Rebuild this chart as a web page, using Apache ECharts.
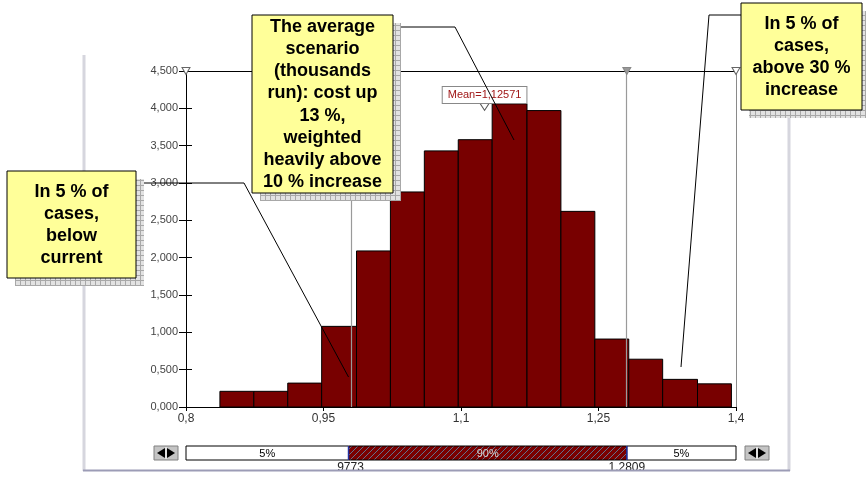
<!DOCTYPE html>
<html><head><meta charset="utf-8">
<script src="https://cdn.jsdelivr.net/npm/echarts/dist/echarts.min.js"></script>
<style>html,body{margin:0;padding:0;background:#fff}#c{width:866px;height:477px}</style>
</head><body><div id="c"></div>
<script>
// ---- data ----
const binEdges = [0.837,0.874,0.911,0.948,0.986,1.023,1.060,1.097,1.134,1.172,1.209,1.246,1.283,1.320,1.358,1.395];
const binValues = [0.21,0.21,0.32,1.08,2.09,2.88,3.43,3.58,4.06,3.97,2.62,0.91,0.64,0.37,0.31];
const xTicks = [0.8,0.95,1.1,1.25,1.4];
const yMin = 0, yMax = 4.5, yStep = 0.5;
const lowerCut = 0.9773, upperCut = 1.2809;
const meanValue = 1.12571, meanMarkerY = 4.02;
const bandLabels = ['5%','90%','5%'];
const cutLabels = ['9773','1,2809'];
const calloutLeft = 'In 5 % of\ncases,\nbelow\ncurrent';
const calloutMid = 'The average\nscenario\n(thousands\nrun): cost up\n13 %,\nweighted\nheavily above\n10 % increase';
const calloutRight = 'In 5 % of\ncases,\nabove 30 %\nincrease';

const FONT = '"Liberation Sans", Arial, sans-serif';
const comma = v => String(+(+v).toFixed(6)).replace('.', ',');

function makePattern(w, h, draw){
  const c = document.createElement('canvas'); c.width = w; c.height = h;
  const g = c.getContext('2d'); draw(g, w, h);
  return {image: c, repeat: 'repeat'};
}
const shadowPat = makePattern(5, 5, (g) => {
  g.fillStyle = '#e2e2e2'; g.fillRect(0,0,5,5);
  g.fillStyle = '#a8a8a8'; g.fillRect(0,0,5,1); g.fillRect(0,0,1,5);
});
const hatchPat = makePattern(6, 6, (g) => {
  g.fillStyle = '#7a0000'; g.fillRect(0,0,6,6);
  g.strokeStyle = '#5a8fb0'; g.lineWidth = 0.8;
  g.beginPath(); g.moveTo(0,6); g.lineTo(6,0); g.stroke();
});

const chart = echarts.init(document.getElementById('c'), null, {renderer: 'canvas'});

function callout(x, y, w, h, text, cx, cy){
  return [
    {type:'rect', z:120, shape:{x:x+8, y:y+8, width:w, height:h}, style:{fill: shadowPat}},
    {type:'rect', z:121, shape:{x:x, y:y, width:w, height:h}, style:{fill:'#ffff99', stroke:'#000', lineWidth:1}},
    {type:'text', z:122, style:{text:text, x:cx, y:cy, align:'center', verticalAlign:'middle',
      font:'bold 18px ' + FONT, lineHeight:22.2, fill:'#000'}}
  ];
}
function arrows(x, y){
  return [
    {type:'rect', z:110, shape:{x:x, y:y, width:24, height:14}, style:{fill:'#c4c4c4', stroke:'#808080', lineWidth:1}},
    {type:'polygon', z:111, shape:{points:[[x+3,y+7],[x+11,y+2],[x+11,y+12]]}, style:{fill:'#000'}},
    {type:'line', z:111, shape:{x1:x+12, y1:y+1, x2:x+12, y2:y+13}, style:{stroke:'#fff', lineWidth:1}},
    {type:'polygon', z:111, shape:{points:[[x+13,y+2],[x+13,y+12],[x+21,y+7]]}, style:{fill:'#000'}}
  ];
}

const option = {
  backgroundColor: '#fff',
  animation: false,
  grid: {left:186, top:71, right:130, bottom:70, containLabel:false},
  xAxis: {
    type:'value', min:0.8, max:1.4,
    axisLine:{show:true, lineStyle:{color:'#000', width:1}},
    axisTick:{show:true, length:4, customValues:xTicks, lineStyle:{color:'#000'}},
    axisLabel:{show:true, customValues:xTicks, formatter:comma, color:'#333', fontSize:12, fontFamily:FONT, margin:6},
    splitLine:{show:false}
  },
  yAxis: [
    {type:'value', min:yMin, max:yMax, interval:yStep,
     axisLine:{show:true, lineStyle:{color:'#000', width:1}},
     axisTick:{show:true, length:7, lineStyle:{color:'#000'}},
     axisLabel:{formatter: v => (+v).toFixed(3).replace('.', ','), color:'#444', fontSize:11, fontFamily:FONT, margin:8},
     splitLine:{show:false}},
    {type:'value', min:yMin, max:yMax, interval:yStep, position:'left',
     axisLine:{show:false}, axisTick:{show:true, inside:true, length:6, lineStyle:{color:'#000'}},
     axisLabel:{show:false}, splitLine:{show:false}}
  ],
  series: [
    {
      type:'custom', name:'hist', z:2,
      encode:{x:[0,1], y:2},
      data: binValues.map((v,i) => [binEdges[i], binEdges[i+1], v]),
      renderItem: function(params, api){
        const p0 = api.coord([api.value(0), api.value(2)]);
        const p1 = api.coord([api.value(1), 0]);
        return {type:'rect', shape:{x:p0[0], y:p0[1], width:p1[0]-p0[0], height:p1[1]-p0[1]},
          style:{fill:'#780000', stroke:'#000', lineWidth:1}};
      }
    },
    {
      type:'line', data:[], z:3,
      markLine:{
        silent:true, symbol:['none','none'], animation:false,
        label:{show:false},
        data:[
          {yAxis:yMax, lineStyle:{color:'#000', width:1, type:'solid'}},
          {xAxis:lowerCut, lineStyle:{color:'#9a9a9a', width:1.2, type:'solid'}},
          {xAxis:upperCut, lineStyle:{color:'#9a9a9a', width:1.2, type:'solid'}},
          {xAxis:1.4, lineStyle:{color:'#8a8a8a', width:1, type:'solid'}}
        ]
      },
      markPoint:{
        silent:true, animation:false,
        data:[
          {coord:[0.8, yMax], symbol:'triangle', symbolRotate:180, symbolSize:[8,7],
           itemStyle:{color:'#fff', borderColor:'#666', borderWidth:1}, label:{show:false}},
          {coord:[1.4, yMax], symbol:'triangle', symbolRotate:180, symbolSize:[8,7],
           itemStyle:{color:'#fff', borderColor:'#666', borderWidth:1}, label:{show:false}},
          {coord:[upperCut, yMax], symbol:'triangle', symbolRotate:180, symbolSize:[8,7],
           itemStyle:{color:'#999', borderColor:'#888', borderWidth:1}, label:{show:false}},
          {coord:[meanValue, meanMarkerY], symbol:'triangle', symbolRotate:180, symbolSize:[9,7],
           itemStyle:{color:'#fff', borderColor:'#555', borderWidth:1},
           label:{show:true, position:'top', distance:0,
             formatter:'Mean=' + comma(meanValue), color:'#a01818', fontSize:11, fontFamily:FONT,
             backgroundColor:'#fff', borderColor:'#888', borderWidth:1, padding:[2,5,2,5], lineHeight:12}}
        ]
      }
    }
  ],
  graphic: []
};
chart.setOption(option);

// ---- annotations / slider built after layout ----
const px = v => chart.convertToPixel({xAxisIndex:0}, v);
const xL = px(0.8), xR = px(1.4), xC1 = px(lowerCut), xC2 = px(upperCut);
const sy = 446, sh = 14;
let g = [];
// frame
g.push({type:'line', z:100, shape:{x1:84, y1:55, x2:84, y2:471}, style:{stroke:'#d6d6de', lineWidth:3}});
g.push({type:'line', z:100, shape:{x1:789, y1:55, x2:789, y2:471}, style:{stroke:'#d6d6de', lineWidth:3}});
// slider
g.push({type:'rect', z:110, shape:{x:xL, y:sy, width:xC1-xL, height:sh}, style:{fill:'#fff', stroke:'#000', lineWidth:1}});
g.push({type:'rect', z:110, shape:{x:xC1, y:sy, width:xC2-xC1, height:sh}, style:{fill:hatchPat, stroke:'#000', lineWidth:1}});
g.push({type:'rect', z:110, shape:{x:xC2, y:sy, width:xR-xC2, height:sh}, style:{fill:'#fff', stroke:'#000', lineWidth:1}});
g.push({type:'line', z:111, shape:{x1:xC1, y1:sy, x2:xC1, y2:sy+sh}, style:{stroke:'#2030a0', lineWidth:1.5}});
g.push({type:'line', z:111, shape:{x1:xC2, y1:sy, x2:xC2, y2:sy+sh}, style:{stroke:'#2030a0', lineWidth:1.5}});
g.push({type:'text', z:112, style:{text:bandLabels[0], x:(xL+xC1)/2, y:sy+sh/2+0.5, align:'center', verticalAlign:'middle', font:'11px ' + FONT, fill:'#000'}});
g.push({type:'text', z:112, style:{text:bandLabels[1], x:(xC1+xC2)/2, y:sy+sh/2+0.5, align:'center', verticalAlign:'middle', font:'11px ' + FONT, fill:'#d8d8d8'}});
g.push({type:'text', z:112, style:{text:bandLabels[2], x:(xC2+xR)/2, y:sy+sh/2+0.5, align:'center', verticalAlign:'middle', font:'11px ' + FONT, fill:'#000'}});
g.push({type:'text', z:112, style:{text:cutLabels[0], x:xC1+2, y:462, align:'center', verticalAlign:'top', font:'12px ' + FONT, fill:'#222'}});
g.push({type:'text', z:112, style:{text:cutLabels[1], x:xC2, y:462, align:'center', verticalAlign:'top', font:'12px ' + FONT, fill:'#222'}});
g.push({type:'rect', z:113, shape:{x:0, y:471, width:866, height:6}, style:{fill:'#fff'}});
g.push({type:'line', z:114, shape:{x1:83, y1:470.5, x2:790, y2:470.5}, style:{stroke:'#9c9cb6', lineWidth:2}});
g = g.concat(arrows(154, 446), arrows(745, 446));
// leader lines
g.push({type:'polyline', z:105, shape:{points:[[136,183],[244,183],[xC1,377]]}, style:{stroke:'#000', lineWidth:1, fill:null}});
g.push({type:'polyline', z:105, shape:{points:[[393,27],[455,27],[514,140]]}, style:{stroke:'#000', lineWidth:1, fill:null}});
g.push({type:'polyline', z:105, shape:{points:[[741,15],[709,15],[681,367]]}, style:{stroke:'#000', lineWidth:1, fill:null}});
// callouts
g = g.concat(callout(7, 171, 129, 107, calloutLeft, 71.5, 225));
g = g.concat(callout(252, 15, 141, 178, calloutMid, 322.5, 104.5));
g = g.concat(callout(741, 3, 121, 107, calloutRight, 801.5, 57));
chart.setOption({graphic: g});
</script>
</body></html>
